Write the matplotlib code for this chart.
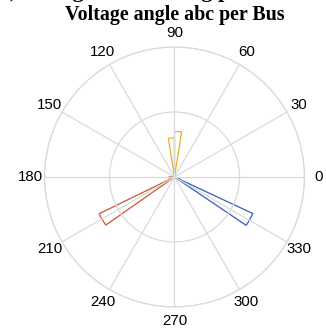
""" Polar histogram of voltage angle for phases a, b, c per bus. """

import numpy as np
import matplotlib
matplotlib.use("Agg")
import matplotlib.pyplot as plt

# bin edges (degrees) and counts for each phase
phase_a_edges = [326, 335, 335, 344]
phase_a_counts = [13.3, 0.8]
phase_b_edges = [206, 215, 180, 189]
phase_b_counts = [12.9, 0.9]
phase_c_edges = [81, 90, 90, 99]
phase_c_counts = [7.0, 6.0]

r_max = 20
theta_ticks = [0, 30, 60, 90, 120, 150, 180, 210, 240, 270, 300, 330]

colors = ['#2f5fc0', '#cc5533', '#e6b22c']

fig = plt.figure(figsize=(3.26, 3.33), dpi=100)
ax = fig.add_axes([0.1365, 0.078, 0.7975, 0.781], projection='polar')

for edges, counts, color in [(phase_a_edges, phase_a_counts, colors[0]),
                             (phase_b_edges, phase_b_counts, colors[1]),
                             (phase_c_edges, phase_c_counts, colors[2])]:
    lo = np.deg2rad(edges[0::2])
    hi = np.deg2rad(edges[1::2])
    ax.bar(lo, counts, width=hi - lo, align='edge', fill=False,
           edgecolor=color, linewidth=0.9)

ax.set_ylim(0, r_max)
ax.set_yticks([r_max / 2, r_max])
ax.set_yticklabels([])
ax.set_thetagrids(theta_ticks, [str(t) for t in theta_ticks],
                  fontsize=10.8, family='Liberation Sans')
ax.tick_params(axis='x', pad=-0.5)
ax.grid(True, color='#dadada', linewidth=0.9)
ax.spines['polar'].set_color('#dadada')
ax.spines['polar'].set_linewidth(0.9)

fig.text(175 / 326, 1 - 20 / 333, 'Voltage angle abc per Bus', ha='center',
         va='baseline', fontsize=14.4, fontweight='bold', family='Liberation Serif')
# cut-off caption above the chart
fig.text(-0.03, 1 + 3 / 333, '(b) Voltage level among phases', ha='left',
         va='baseline', fontsize=16, fontweight='bold', family='Liberation Serif')

fig.savefig('out.png', dpi=100)
